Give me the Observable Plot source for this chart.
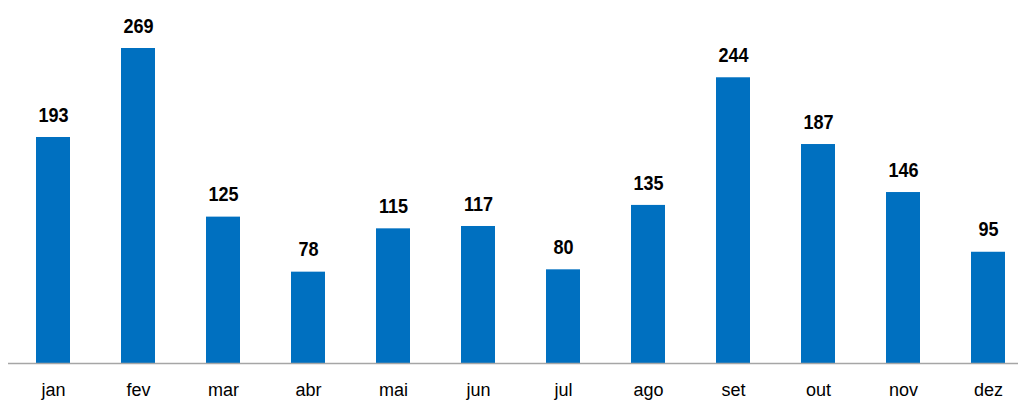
<!DOCTYPE html>
<html><head><meta charset="utf-8">
<script src="https://cdn.jsdelivr.net/npm/d3@7"></script>
<script src="https://cdn.jsdelivr.net/npm/@observablehq/plot@0.6"></script>
<style>body{margin:0;background:#fff;}</style>
</head><body><div id="chart"></div>
<script>
const months = ["jan","fev","mar","abr","mai","jun","jul","ago","set","out","nov","dez"];
const values = [193,269,125,78,115,117,80,135,244,187,146,95];
const data = months.map((m,i)=>({m, v: values[i]}));
const chart = Plot.plot({
  width: 1018, height: 400,
  marginLeft: 8, marginRight: 0, marginTop: 0, marginBottom: 37,
  style: {fontFamily: "'Liberation Sans', Arial, sans-serif", background: "#fff"},
  x: {domain: months, range: [9.4, 1031.8], paddingInner: 0.6, paddingOuter: 0.3, label: null},
  y: {domain: [0, 300], range: [363, 11.7], axis: null},
  marks: [
    Plot.barY(data, {x: "m", y: "v", fill: "#0070C0"}),
    Plot.ruleY([0], {stroke: "#A6A6A6", strokeWidth: 1.5}),
    Plot.text(data, {x: "m", y: "v", text: d => String(d.v), dy: -22.5, fontSize: 21, fontWeight: "bold", fill: "#000"}),
    Plot.axisX({tickSize: 0, tickPadding: 20, fontSize: 18, color: "#000", label: null})
  ]
});
// condense the bold value labels horizontally (narrow typeface look)
d3.select(chart).selectAll('g[aria-label="text"] text').each(function(){
  const x = +this.getAttribute("x") || 0;
  const tr = this.getAttribute("transform") || "";
  this.setAttribute("transform", `${tr} translate(${x},0) scale(0.86,1) translate(${-x},0)`);
});
document.getElementById("chart").append(chart);
</script></body></html>
